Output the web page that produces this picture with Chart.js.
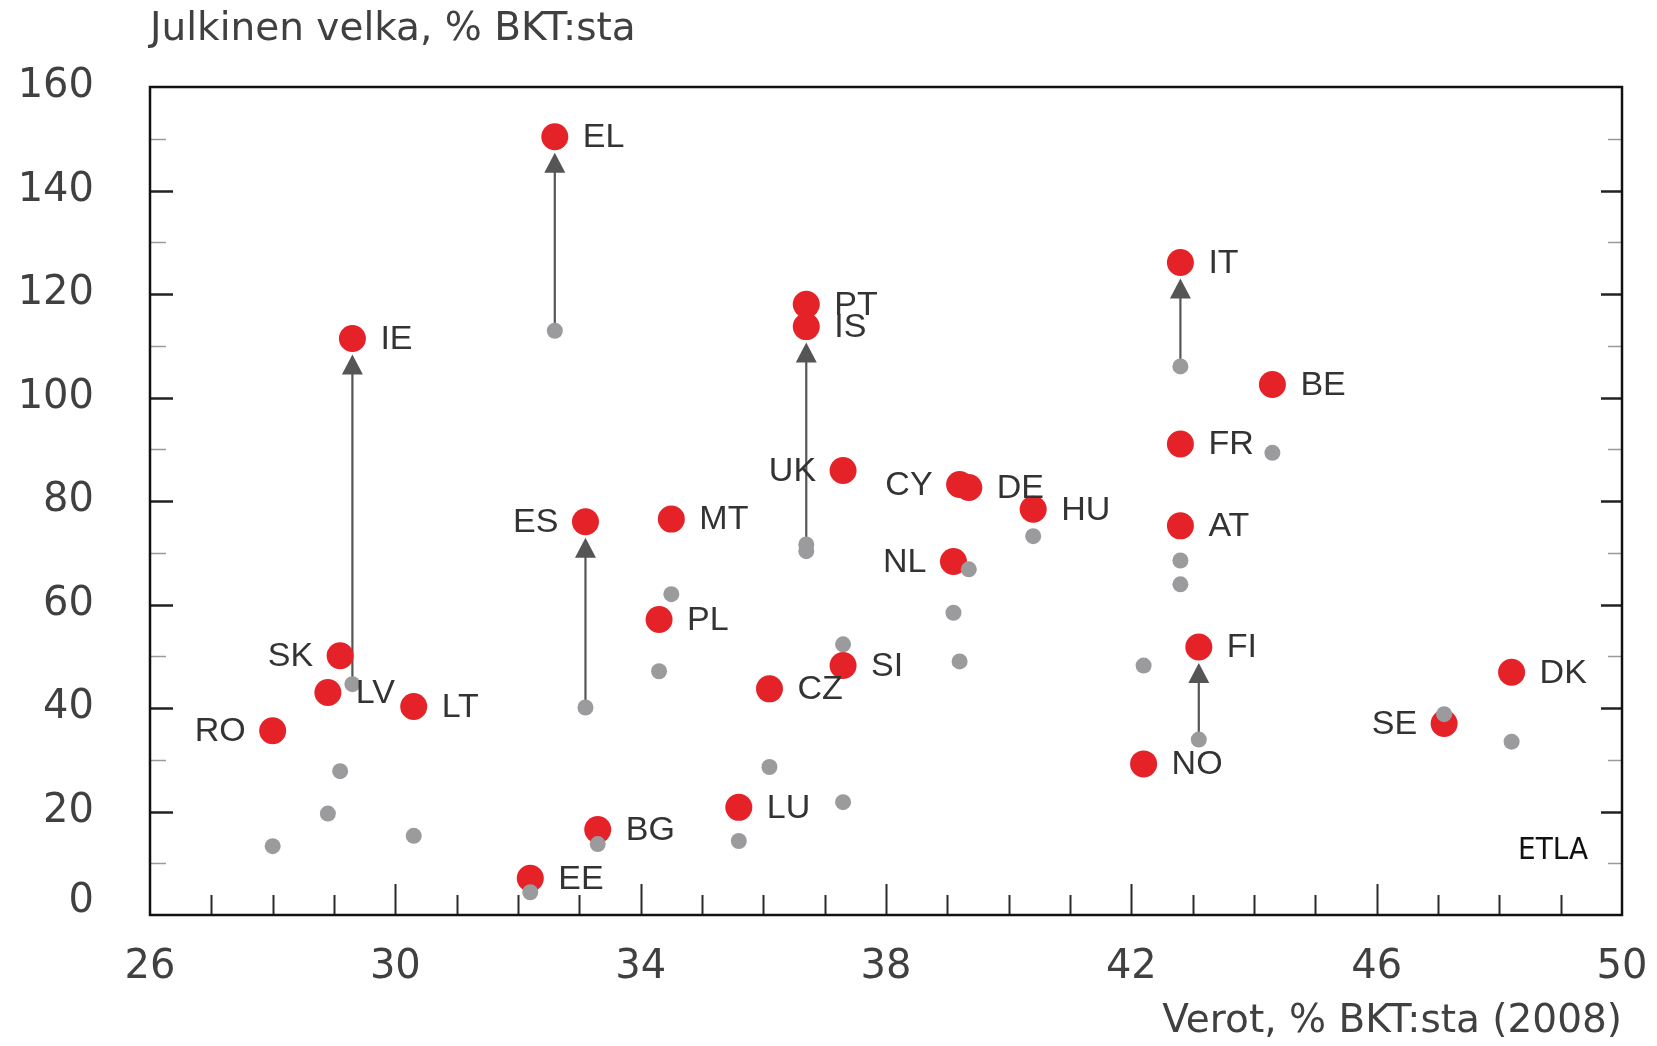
<!DOCTYPE html>
<html><head><meta charset="utf-8">
<script src="https://cdn.jsdelivr.net/npm/chart.js@4.4.1/dist/chart.umd.min.js"></script>
<style>html,body{margin:0;padding:0;background:#fff}canvas{display:block}</style>
</head><body>
<canvas id="c" width="1657" height="1046"></canvas>
<script>
// ---- data ----
const countries = ['EL','IE','ES','PT','IS','IT','FI','BE','FR','AT','NO','UK','CY','DE','NL','HU','MT','PL','CZ','SI','LU','BG','EE','SK','LV','LT','RO','SE','DK'];
const taxes2008 = [32.6,29.3,33.1,36.7,36.7,42.8,43.1,44.3,42.8,42.8,42.2,37.3,39.2,39.35,39.1,40.4,34.5,34.3,36.1,37.3,35.6,33.3,32.2,29.1,28.9,30.3,28.0,47.1,48.2];
const debt2008  = [112.9,44.6,40.1,71.6,70.3,106.0,33.9,89.3,68.5,63.9,48.2,52.3,49.0,66.8,58.4,73.2,62.0,47.1,28.6,21.8,14.3,13.7,4.4,27.8,19.6,15.3,13.3,38.8,33.5];
const debt2010  = [150.4,111.4,76.0,118.0,113.7,126.1,51.8,102.5,91.0,75.2,29.2,85.9,83.2,82.6,68.3,78.4,76.5,57.1,43.7,48.2,20.8,16.5,7.1,50.1,43.0,40.3,35.6,37.0,46.9];
const arrowCountries = ['EL','IE','ES','IS','IT','FI'];
const leftLabelCountries = ['SK','RO','ES','UK','CY','NL','SE'];
const xTickLabels = [26,30,34,38,42,46,50];
const yTickLabels = [0,20,40,60,80,100,120,140,160];
const yAxisTitle = 'Julkinen velka, % BKT:sta';
const xAxisTitle = 'Verot, % BKT:sta (2008)';
const sourceNote = 'ETLA';

const RED = '#e42228', GRAY = '#9b9b9d', TXT = '#404040';
const AXFONT = 'DejaVu Sans';
const LBLFONT = 'Liberation Sans';

const decoPlugin = {
  id: 'deco',
  beforeDatasetsDraw(chart) {
    const {ctx, chartArea: a, scales: {x, y}} = chart;
    ctx.save();
    y.ticks.forEach(t => {
      const v = t.value;
      if (v <= y.min || v >= y.max) return;
      const py = Math.round(y.getPixelForValue(v)) + 0.5;
      const major = yTickLabels.includes(v);
      ctx.strokeStyle = major ? '#222' : '#9a9a9a';
      ctx.lineWidth = major ? 2.5 : 1.5;
      const lenL = major ? 23 : 16, lenR = major ? 21 : 14;
      ctx.beginPath();
      ctx.moveTo(a.left, py); ctx.lineTo(a.left + lenL, py);
      ctx.moveTo(a.right, py); ctx.lineTo(a.right - lenR, py);
      ctx.stroke();
    });
    x.ticks.forEach(t => {
      const v = t.value;
      if (v <= x.min || v >= x.max) return;
      const px = Math.round(x.getPixelForValue(v)) + 0.5;
      const major = xTickLabels.includes(v);
      ctx.strokeStyle = '#2a2a2a';
      ctx.lineWidth = 2;
      ctx.beginPath();
      ctx.moveTo(px, a.bottom); ctx.lineTo(px, a.bottom - (major ? 31 : 20));
      ctx.stroke();
    });
    ctx.strokeStyle = '#111';
    ctx.lineWidth = 2.5;
    ctx.strokeRect(a.left, a.top, a.right - a.left, a.bottom - a.top);
    ctx.strokeStyle = '#555'; ctx.fillStyle = '#555'; ctx.lineWidth = 2.2;
    arrowCountries.forEach(c => {
      const i = countries.indexOf(c);
      const px = x.getPixelForValue(taxes2008[i]);
      const y0 = y.getPixelForValue(debt2008[i]);
      const y1 = y.getPixelForValue(debt2010[i]);
      const tip = y1 + 16;
      ctx.beginPath(); ctx.moveTo(px, y0); ctx.lineTo(px, tip + 15); ctx.stroke();
      ctx.beginPath(); ctx.moveTo(px, tip); ctx.lineTo(px - 10.5, tip + 20); ctx.lineTo(px + 10.5, tip + 20); ctx.closePath(); ctx.fill();
    });
    ctx.restore();
  },
  afterDatasetsDraw(chart) {
    const {ctx, chartArea: a} = chart;
    const meta = chart.getDatasetMeta(1);
    ctx.save();
    ctx.font = '34px "' + LBLFONT + '"';
    ctx.fillStyle = '#333';
    ctx.textBaseline = 'middle';
    countries.forEach((c, i) => {
      const el = meta.data[i];
      if (leftLabelCountries.includes(c)) {
        ctx.textAlign = 'right';
        ctx.fillText(c, el.x - 27, el.y + 1);
      } else {
        ctx.textAlign = 'left';
        ctx.fillText(c, el.x + 28, el.y + 1);
      }
    });
    ctx.font = '31px "Liberation Sans Narrow", "DejaVu Sans Condensed", sans-serif';
    ctx.fillStyle = '#111';
    ctx.textAlign = 'center';
    ctx.fillText(sourceNote, a.right - 69, a.bottom - 64);
    ctx.restore();
  }
};

new Chart(document.getElementById('c'), {
  type: 'scatter',
  data: {
    datasets: [
      {
        label: '2008',
        data: countries.map((c, i) => ({x: taxes2008[i], y: debt2008[i]})),
        backgroundColor: GRAY, borderWidth: 0, pointRadius: 8, pointHoverRadius: 8, order: 1
      },
      {
        label: '2010',
        data: countries.map((c, i) => ({x: taxes2008[i], y: debt2010[i]})),
        backgroundColor: RED, borderWidth: 0, pointRadius: 13.5, pointHoverRadius: 13.5, order: 2
      }
    ]
  },
  options: {
    responsive: false,
    devicePixelRatio: 1,
    animation: false,
    events: [],
    layout: {padding: {top: 0, right: 35, bottom: 0, left: 0}},
    plugins: {
      legend: {display: false},
      tooltip: {enabled: false},
      title: {
        display: true, text: yAxisTitle, align: 'start', fullSize: false,
        color: TXT, font: {family: AXFONT, size: 39, weight: 'normal', lineHeight: 1.2},
        padding: {top: 6, bottom: 34.2}
      }
    },
    scales: {
      x: {
        type: 'linear', min: 26, max: 50,
        grid: {display: false, drawTicks: false},
        border: {display: false},
        ticks: {
          stepSize: 1, autoSkip: false, maxRotation: 0, color: TXT, padding: 29,
          font: {family: AXFONT, size: 40},
          callback: v => xTickLabels.includes(v) ? String(v) : ''
        },
        title: {
          display: true, text: xAxisTitle, align: 'end', color: TXT,
          font: {family: AXFONT, size: 39, lineHeight: 1.2},
          padding: {top: 0, bottom: 1}
        },
        afterFit: s => { s.height = 131; s.paddingLeft = 0; s.paddingRight = 0; }
      },
      y: {
        type: 'linear', min: 0, max: 160,
        grid: {display: false, drawTicks: false},
        border: {display: false},
        ticks: {
          stepSize: 10, autoSkip: false, color: TXT, padding: 56,
          font: c => (c.tick && c.tick.value === 0) ? {family: AXFONT, size: 40, lineHeight: 0.65} : {family: AXFONT, size: 40},
          callback: v => v === 0 ? ['0', ''] : (yTickLabels.includes(v) ? String(v) : '')
        },
        afterFit: s => { s.width = 150; }
      }
    }
  },
  plugins: [decoPlugin]
});
</script>
</body></html>
